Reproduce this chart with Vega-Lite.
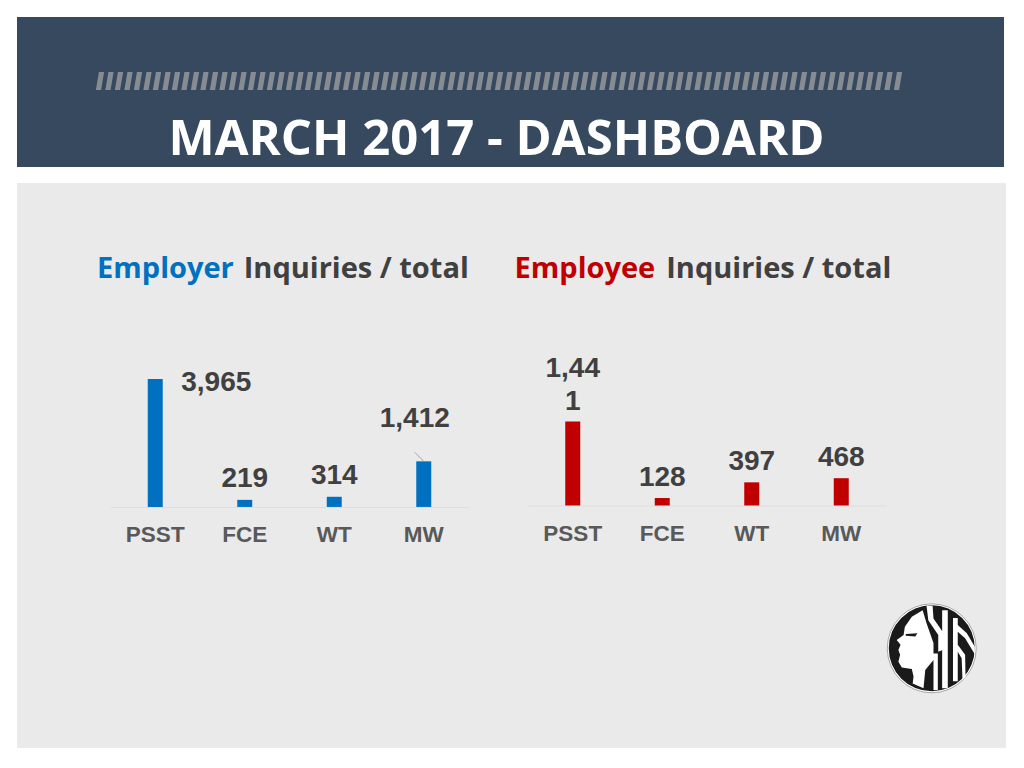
{"$schema":"https://vega.github.io/schema/vega-lite/v6.json","background":"white","padding":{"left":17,"top":17,"right":18,"bottom":20},"autosize":{"type":"pad"},"config":{"view":{"stroke":null},"concat":{"spacing":0}},"spacing":16,"vconcat":[
{"width":987,"height":150,"view":{"fill":"#36495f","stroke":null},"layer":[
{"data":{"values":[{"n":1},{"n":2},{"n":3},{"n":4},{"n":5},{"n":6},{"n":7},{"n":8},{"n":9},{"n":10},{"n":11},{"n":12},{"n":13},{"n":14},{"n":15},{"n":16},{"n":17},{"n":18},{"n":19},{"n":20},{"n":21},{"n":22},{"n":23},{"n":24},{"n":25},{"n":26},{"n":27},{"n":28},{"n":29},{"n":30},{"n":31},{"n":32},{"n":33},{"n":34},{"n":35},{"n":36},{"n":37},{"n":38},{"n":39},{"n":40},{"n":41},{"n":42},{"n":43},{"n":44},{"n":45},{"n":46},{"n":47},{"n":48},{"n":49},{"n":50},{"n":51},{"n":52},{"n":53},{"n":54},{"n":55},{"n":56},{"n":57},{"n":58},{"n":59},{"n":60},{"n":61},{"n":62},{"n":63},{"n":64},{"n":65},{"n":66},{"n":67},{"n":68},{"n":69},{"n":70},{"n":71},{"n":72},{"n":73},{"n":74},{"n":75},{"n":76},{"n":77},{"n":78},{"n":79},{"n":80},{"n":81},{"n":82},{"n":83},{"n":84},{"n":85}]},
"mark":{"type":"point","filled":true,"opacity":1,"size":324,"color":"#868c92","strokeWidth":0,"yOffset":-11,"shape":"M-.46,1 L.12,1 L.46,-1 L-.12,-1 Z"},
"encoding":{"x":{"field":"n","type":"quantitative","axis":null,"scale":{"domain":[1,85],"range":[83,881],"nice":false,"zero":false}}}},
{"data":{"values":[{"t":"MARCH 2017 - DASHBOARD"}]},"mark":{"type":"text","font":"Open Sans","fontWeight":"bold","fontSize":49,"color":"white","dx":-14,"dy":48,"baseline":"middle"},"encoding":{"text":{"field":"t"}}}
]},
{"hconcat":[
{"width":494,"height":565,"view":{"fill":"#eaeaea","stroke":null},"data":{"values":[{"cat":"PSST","value":3965,"label":"3,965"},{"cat":"FCE","value":219,"label":"219"},{"cat":"WT","value":314,"label":"314"},{"cat":"MW","value":1412,"label":"1,412"}]},
"layer":[
{"mark":{"type":"bar","width":15,"color":"#0070c0"},"encoding":{"x":{"field":"cat","type":"nominal","title":null,"scale":{"domain":["PSST","FCE","WT","MW"],"range":[93.5,451.5],"paddingInner":0,"paddingOuter":0},"axis":{"orient":"bottom","offset":-241,"ticks":false,"grid":false,"labelAngle":0,"labelFont":"Liberation Sans","labelFontWeight":"bold","labelFontSize":22.5,"labelColor":"#595959","labelPadding":16.5,"domainColor":"#dedede","domainWidth":1}},"y":{"field":"value","type":"quantitative","axis":null,"scale":{"domain":[-7465,10031],"nice":false,"zero":false}}}},
{"transform":[{"filter":"datum.cat=='FCE'||datum.cat=='WT'"}],"mark":{"type":"text","font":"Liberation Sans","fontWeight":"bold","fontSize":28,"color":"#404040","dy":-20.5,"baseline":"middle"},"encoding":{"x":{"field":"cat","type":"nominal"},"y":{"field":"value","type":"quantitative"},"text":{"field":"label"}}},
{"transform":[{"filter":"datum.cat=='MW'"}],"mark":{"type":"text","font":"Liberation Sans","fontWeight":"bold","fontSize":28,"color":"#404040","dy":-42,"dx":-9,"baseline":"middle"},"encoding":{"x":{"field":"cat","type":"nominal"},"y":{"field":"value","type":"quantitative"},"text":{"field":"label"}}},
{"transform":[{"filter":"datum.cat=='PSST'"}],"mark":{"type":"text","font":"Liberation Sans","fontWeight":"bold","fontSize":28,"color":"#404040","dy":4,"dx":61,"baseline":"middle"},"encoding":{"x":{"field":"cat","type":"nominal"},"y":{"field":"value","type":"quantitative"},"text":{"field":"label"}}},
{"data":{"values":[{"t":"Employer"}]},"mark":{"type":"text","font":"Open Sans","fontWeight":"bold","fontSize":29,"color":"#0070c0","align":"right","dx":-11,"baseline":"middle"},"encoding":{"x":{"datum":"FCE","type":"nominal"},"y":{"datum":7368,"type":"quantitative"},"text":{"field":"t"}}},
{"data":{"values":[{"t":"Inquiries / total"}]},"mark":{"type":"text","font":"Open Sans","fontWeight":"bold","fontSize":29,"color":"#404040","align":"left","dx":-1,"baseline":"middle"},"encoding":{"x":{"datum":"FCE","type":"nominal"},"y":{"datum":7368,"type":"quantitative"},"text":{"field":"t"}}},
{"data":{"values":[{"t":"leader"}]},"mark":{"type":"rule","color":"#a6a6a6","strokeWidth":1,"xOffset":-9},"encoding":{"x":{"datum":"MW","type":"nominal"},"x2":{"datum":"MW"},"y":{"datum":1692,"type":"quantitative"},"y2":{"datum":1412}}}
]},
{"width":495,"height":565,"view":{"fill":"#eaeaea","stroke":null},"data":{"values":[{"cat":"PSST","value":1441,"label":"1,44\n1"},{"cat":"FCE","value":128,"label":"128"},{"cat":"WT","value":397,"label":"397"},{"cat":"MW","value":468,"label":"468"}]},
"layer":[
{"mark":{"type":"bar","width":15,"color":"#c00000"},"encoding":{"x":{"field":"cat","type":"nominal","title":null,"scale":{"domain":["PSST","FCE","WT","MW"],"range":[17,375],"paddingInner":0,"paddingOuter":0},"axis":{"orient":"bottom","offset":-242.5,"ticks":false,"grid":false,"labelAngle":0,"labelFont":"Liberation Sans","labelFontWeight":"bold","labelFontSize":22.5,"labelColor":"#595959","labelPadding":17,"domainColor":"#dedede","domainWidth":1}},"y":{"field":"value","type":"quantitative","axis":null,"scale":{"domain":[-4160,5532],"nice":false,"zero":false}}}},
{"transform":[{"filter":"datum.cat!='PSST'"}],"mark":{"type":"text","font":"Liberation Sans","fontWeight":"bold","fontSize":28,"color":"#404040","dy":-20,"baseline":"middle"},"encoding":{"x":{"field":"cat","type":"nominal"},"y":{"field":"value","type":"quantitative"},"text":{"field":"label"}}},
{"transform":[{"filter":"datum.cat=='PSST'"}],"mark":{"type":"text","font":"Liberation Sans","fontWeight":"bold","fontSize":28,"color":"#404040","dy":-52,"baseline":"middle","lineBreak":"\n","lineHeight":33},"encoding":{"x":{"field":"cat","type":"nominal"},"y":{"field":"value","type":"quantitative"},"text":{"field":"label"}}},
{"data":{"values":[{"t":"Employee"}]},"mark":{"type":"text","font":"Open Sans","fontWeight":"bold","fontSize":29,"color":"#c00000","align":"right","dx":-7,"baseline":"middle"},"encoding":{"x":{"datum":"FCE","type":"nominal"},"y":{"datum":4057,"type":"quantitative"},"text":{"field":"t"}}},
{"data":{"values":[{"t":"Inquiries / total"}]},"mark":{"type":"text","font":"Open Sans","fontWeight":"bold","fontSize":29,"color":"#404040","align":"left","dx":4,"baseline":"middle"},"encoding":{"x":{"datum":"FCE","type":"nominal"},"y":{"datum":4057,"type":"quantitative"},"text":{"field":"t"}}},
{"data":{"values":[{"t":"logo"}]},"mark":{"type":"point","filled":true,"opacity":1,"size":7921,"fill":"white","stroke":"#a6a6a6","strokeWidth":1,"shape":"circle","xOffset":90.5},"encoding":{"x":{"datum":"MW","type":"nominal"},"y":{"datum":-2450,"type":"quantitative"}}},
{"data":{"values":[{"t":"logo"}]},"mark":{"type":"point","filled":true,"opacity":1,"size":7400,"color":"#1a1a1a","strokeWidth":0,"shape":"circle","xOffset":90.5},"encoding":{"x":{"datum":"MW","type":"nominal"},"y":{"datum":-2450,"type":"quantitative"}}},
{"data":{"values":[{"t":"logo"}]},"mark":{"type":"point","filled":true,"opacity":1,"size":7511,"color":"white","strokeWidth":0,"xOffset":90.5,"shape":"M-.21,-.88 L-.46,-.73 L-.62,-.5 L-.65,-.31 L-.81,-.19 L-.72,-.08 L-.77,.04 L-.73,.15 L-.77,.31 L-.69,.44 L-.46,.48 L-.42,.65 L-.44,.81 L-.19,.92 L-.15,.5 L.04,.27 L.04,-.12 L-.12,-.58 Z M-.12,-.98 L.02,-.98 L.04,-.69 L.25,-.38 L.25,.04 L.15,.08 L.15,-.31 L-.08,-.65 Z M.04,.12 L.14,.12 L.14,.96 L.04,.96 Z M.24,-.88 L.37,-.88 L.37,.92 L.24,.92 Z M.49,-.7 L.6,-.7 L.6,.76 L.49,.76 Z M.6,-.54 L.81,-.35 L.99,-.04 L1,.15 L.77,-.23 L.6,-.38 Z M.6,-.08 L.77,.15 L.78,.67 L.71,.73 L.69,.23 L.6,.08 Z"},"encoding":{"x":{"datum":"MW","type":"nominal"},"y":{"datum":-2450,"type":"quantitative"}}},
{"data":{"values":[{"t":"logo"}]},"mark":{"type":"point","filled":true,"opacity":1,"size":7511,"color":"#1a1a1a","strokeWidth":0,"xOffset":90.5,"shape":"M-.6,-.33 L-.33,-.35 L-.38,-.27 L-.6,-.29 Z"},"encoding":{"x":{"datum":"MW","type":"nominal"},"y":{"datum":-2450,"type":"quantitative"}}}
]}
]}
]}
